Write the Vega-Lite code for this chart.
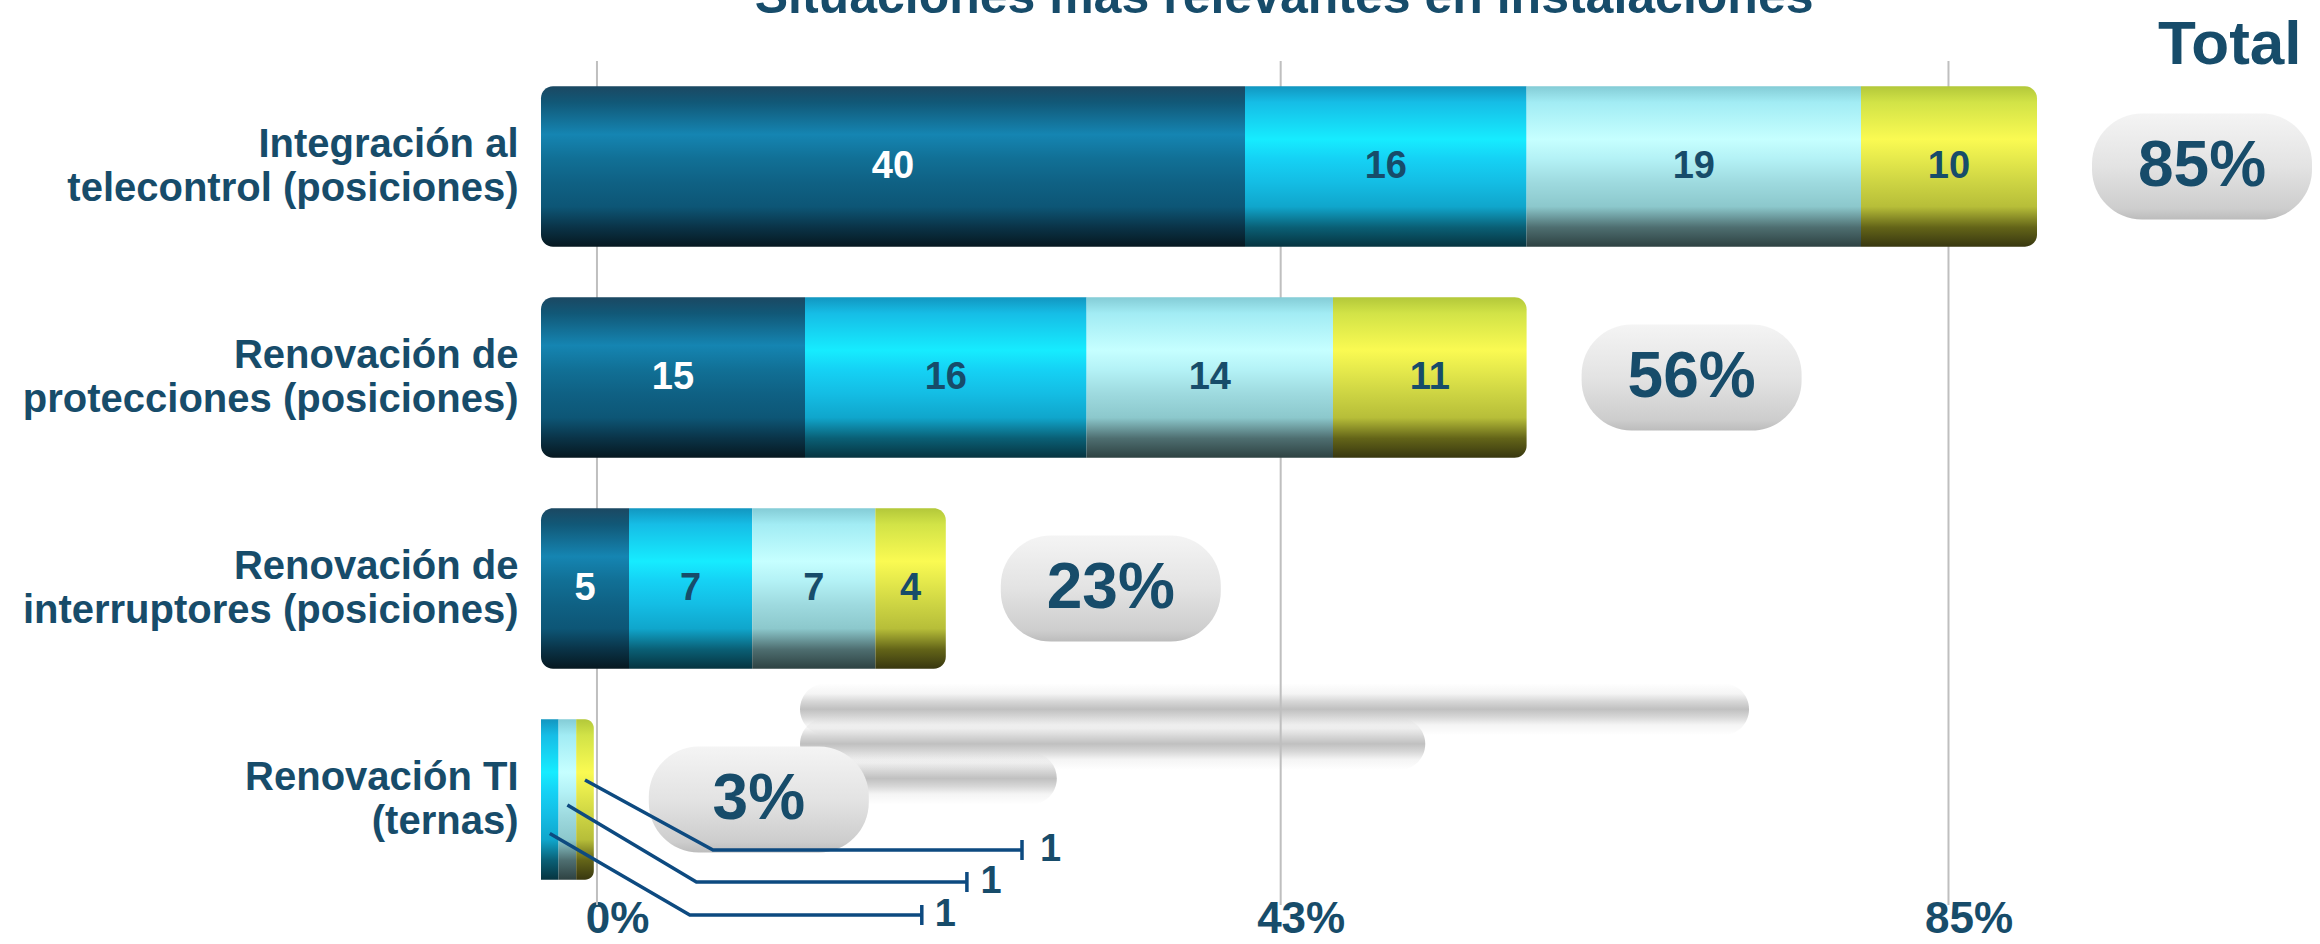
{
  "$schema": "https://vega.github.io/schema/vega-lite/v6.json",
  "width": 1760,
  "height": 844,
  "autosize": {"type": "none"},
  "padding": {"left": 541, "top": 61, "right": 19, "bottom": 39},
  "background": "white",
  "config": {"view": {"stroke": null}, "font": "Liberation Sans"},
  "datasets": {
    "segments": [
      {"category": "Integración al telecontrol (posiciones)", "serie": "Serie 1", "value": 40},
      {"category": "Integración al telecontrol (posiciones)", "serie": "Serie 2", "value": 16},
      {"category": "Integración al telecontrol (posiciones)", "serie": "Serie 3", "value": 19},
      {"category": "Integración al telecontrol (posiciones)", "serie": "Serie 4", "value": 10},
      {"category": "Renovación de protecciones (posiciones)", "serie": "Serie 1", "value": 15},
      {"category": "Renovación de protecciones (posiciones)", "serie": "Serie 2", "value": 16},
      {"category": "Renovación de protecciones (posiciones)", "serie": "Serie 3", "value": 14},
      {"category": "Renovación de protecciones (posiciones)", "serie": "Serie 4", "value": 11},
      {"category": "Renovación de interruptores (posiciones)", "serie": "Serie 1", "value": 5},
      {"category": "Renovación de interruptores (posiciones)", "serie": "Serie 2", "value": 7},
      {"category": "Renovación de interruptores (posiciones)", "serie": "Serie 3", "value": 7},
      {"category": "Renovación de interruptores (posiciones)", "serie": "Serie 4", "value": 4},
      {"category": "Renovación TI (ternas)", "serie": "Serie 1", "value": 0},
      {"category": "Renovación TI (ternas)", "serie": "Serie 2", "value": 1},
      {"category": "Renovación TI (ternas)", "serie": "Serie 3", "value": 1},
      {"category": "Renovación TI (ternas)", "serie": "Serie 4", "value": 1}
    ],
    "grid": [{"pct": 0}, {"pct": 43}, {"pct": 85}]
  },
  "resolve": {"scale": {"x": "independent", "y": "independent"}},
  "layer": [
    {
      "data": {"name": "segments"},
      "transform": [
        {"aggregate": [{"op": "sum", "field": "value", "as": "total"}], "groupby": ["category"]},
        {"filter": "datum.category != 'Renovación TI (ternas)'"},
        {"window": [{"op": "rank", "as": "rank"}], "sort": [{"field": "total", "order": "descending"}]}
      ],
      "mark": {
        "type": "bar",
        "orient": "horizontal",
        "height": 52,
        "cornerRadius": 26,
        "fill": {
          "gradient": "linear", "x1": 0, "y1": 0, "x2": 0, "y2": 1,
          "stops": [
            {"offset": 0, "color": "rgba(150,150,150,0)"},
            {"offset": 0.2, "color": "rgba(150,150,150,0.1)"},
            {"offset": 0.35, "color": "rgba(150,150,150,0.38)"},
            {"offset": 0.5, "color": "rgba(150,150,150,0.6)"},
            {"offset": 0.65, "color": "rgba(150,150,150,0.38)"},
            {"offset": 0.8, "color": "rgba(150,150,150,0.1)"},
            {"offset": 1, "color": "rgba(150,150,150,0)"}
          ]
        }
      },
      "encoding": {
        "x": {
          "field": "total", "type": "quantitative", "stack": null,
          "scale": {"domain": [-23.2, 134.44], "nice": false, "zero": false},
          "axis": {
            "orient": "top", "title": "Total", "labels": false, "ticks": false, "domain": false, "grid": false,
            "titleFontSize": 62, "titleFontWeight": "bold", "titleFont": "Liberation Sans", "titleColor": "#174c6a",
            "titleAnchor": "end", "titleAlign": "right", "titleBaseline": "alphabetic", "titleX": 1760, "titleY": 2
          }
        },
        "y": {
          "field": "rank", "type": "quantitative",
          "scale": {"domain": [-17.6, 6.514], "reverse": true, "nice": false, "zero": false},
          "axis": null
        }
      }
    },
    {
      "data": {"name": "grid"},
      "mark": {"type": "rule", "color": "#bfbfbf", "strokeWidth": 2},
      "encoding": {
        "x": {
          "field": "pct", "type": "quantitative",
          "scale": {"domain": [-3.52, 107.17], "nice": false, "zero": false},
          "axis": {
            "orient": "bottom", "values": [0, 43, 85], "labelExpr": "datum.value + '%'",
            "domain": false, "ticks": false, "tickSize": 0, "grid": false,
            "labelFontSize": 44, "labelFontWeight": "bold", "labelColor": "#174c6a", "labelFont": "Liberation Sans",
            "labelPadding": 27, "labelBaseline": "alphabetic", "labelOffset": 20,
            "labelFlush": false, "labelOverlap": false,
            "title": "Situaciones más relevantes en instalaciones",
            "titleFontSize": 50, "titleFontWeight": "bold", "titleFont": "Liberation Sans", "titleColor": "#174c6a",
            "titleAlign": "center", "titleBaseline": "alphabetic", "titleX": 742.6, "titleY": -893
          }
        }
      }
    },
    {
      "encoding": {
        "y": {
          "field": "category", "type": "nominal",
          "scale": {
            "domain": ["Integración al telecontrol (posiciones)", "Renovación de protecciones (posiciones)", "Renovación de interruptores (posiciones)", "Renovación TI (ternas)"],
            "paddingInner": 0.24, "paddingOuter": 0.12
          },
          "axis": {
            "orient": "left", "domain": false, "ticks": false, "grid": false, "title": null,
            "labelFontSize": 40, "labelFontWeight": "bold", "labelColor": "#174c6a", "labelFont": "Liberation Sans",
            "labelAlign": "right", "labelBaseline": "middle", "labelPadding": 23, "labelLimit": 700,
            "labelLineHeight": 44, "labelOffset": -22,
            "labelExpr": "[join(slice(split(datum.label, ' '), 0, 2), ' '), join(slice(split(datum.label, ' '), 2), ' ')]"
          }
        }
      },
      "layer": [
        {
          "data": {"name": "segments"},
          "transform": [
            {"aggregate": [{"op": "sum", "field": "value", "as": "total"}], "groupby": ["category"]},
            {"calculate": "datum.total + '%'", "as": "label"}
          ],
          "layer": [
            {
              "mark": {
                "type": "bar", "xOffset": 55, "x2Offset": 275, "height": 106, "cornerRadius": 50,
                "fill": {
                  "gradient": "linear", "x1": 0, "y1": 0, "x2": 0, "y2": 1,
                  "stops": [
                    {"offset": 0, "color": "#f4f4f4"},
                    {"offset": 0.5, "color": "#e3e3e3"},
                    {"offset": 0.9, "color": "#cdcdcd"},
                    {"offset": 1, "color": "#bcbcbc"}
                  ]
                }
              },
              "encoding": {
                "x": {"field": "total", "type": "quantitative", "scale": {"domain": [0, 100], "nice": false, "zero": false}, "axis": null},
                "x2": {"field": "total"}
              }
            },
            {
              "mark": {"type": "text", "dx": 165, "align": "center", "baseline": "middle", "fontSize": 64, "fontWeight": "bold", "font": "Liberation Sans", "color": "#174c6a"},
              "encoding": {
                "x": {"field": "total", "type": "quantitative", "scale": {"domain": [0, 100], "nice": false, "zero": false}, "axis": null},
                "text": {"field": "label", "type": "nominal"}
              }
            }
          ]
        },
        {
          "data": {"name": "segments"},
          "transform": [
            {"stack": "value", "groupby": ["category"], "sort": [{"field": "serie", "order": "ascending"}], "as": ["x0", "x1"]},
            {"calculate": "(datum.x0 + datum.x1) / 2", "as": "mid"}
          ],
          "layer": [
            {
              "transform": [{"filter": "datum.serie == 'Serie 1'"}],
              "mark": {
                "type": "bar",
                "cornerRadiusTopLeft": 12, "cornerRadiusBottomLeft": 12,
                "fill": {
                  "gradient": "linear", "x1": 0, "y1": 0, "x2": 0, "y2": 1,
                  "stops": [
                    {"offset": 0, "color": "#1b4862"},
                    {"offset": 0.1, "color": "#115877"},
                    {"offset": 0.3, "color": "#1585b2"},
                    {"offset": 0.45, "color": "#117096"},
                    {"offset": 0.6, "color": "#0f6184"},
                    {"offset": 0.75, "color": "#0d5676"},
                    {"offset": 0.88, "color": "#0a3347"},
                    {"offset": 1, "color": "#061820"}
                  ]
                }
              },
              "encoding": {
                "x": {"field": "x0", "type": "quantitative", "scale": {"domain": [0, 100], "nice": false, "zero": false}, "axis": null},
                "x2": {"field": "x1"}
              }
            },
            {
              "transform": [{"filter": "datum.serie == 'Serie 2'"}],
              "mark": {
                "type": "bar",
                "fill": {
                  "gradient": "linear", "x1": 0, "y1": 0, "x2": 0, "y2": 1,
                  "stops": [
                    {"offset": 0, "color": "#1296c0"},
                    {"offset": 0.1, "color": "#16bde6"},
                    {"offset": 0.33, "color": "#16ecff"},
                    {"offset": 0.45, "color": "#15d2f5"},
                    {"offset": 0.6, "color": "#14bde4"},
                    {"offset": 0.75, "color": "#10a6cc"},
                    {"offset": 0.88, "color": "#0a5f75"},
                    {"offset": 1, "color": "#063440"}
                  ]
                }
              },
              "encoding": {
                "x": {"field": "x0", "type": "quantitative", "scale": {"domain": [0, 100], "nice": false, "zero": false}, "axis": null},
                "x2": {"field": "x1"}
              }
            },
            {
              "transform": [{"filter": "datum.serie == 'Serie 3'"}],
              "mark": {
                "type": "bar",
                "fill": {
                  "gradient": "linear", "x1": 0, "y1": 0, "x2": 0, "y2": 1,
                  "stops": [
                    {"offset": 0, "color": "#84ccd6"},
                    {"offset": 0.1, "color": "#a2ecf4"},
                    {"offset": 0.33, "color": "#c6ffff"},
                    {"offset": 0.45, "color": "#b4f2f6"},
                    {"offset": 0.6, "color": "#9edadf"},
                    {"offset": 0.75, "color": "#8cc8cc"},
                    {"offset": 0.88, "color": "#4e6e70"},
                    {"offset": 1, "color": "#2e4242"}
                  ]
                }
              },
              "encoding": {
                "x": {"field": "x0", "type": "quantitative", "scale": {"domain": [0, 100], "nice": false, "zero": false}, "axis": null},
                "x2": {"field": "x1"}
              }
            },
            {
              "transform": [{"filter": "datum.serie == 'Serie 4'"}],
              "mark": {
                "type": "bar",
                "cornerRadiusTopRight": 12, "cornerRadiusBottomRight": 12,
                "fill": {
                  "gradient": "linear", "x1": 0, "y1": 0, "x2": 0, "y2": 1,
                  "stops": [
                    {"offset": 0, "color": "#b3c83a"},
                    {"offset": 0.1, "color": "#d2e347"},
                    {"offset": 0.33, "color": "#fafa52"},
                    {"offset": 0.45, "color": "#e6ea4c"},
                    {"offset": 0.6, "color": "#cdd443"},
                    {"offset": 0.75, "color": "#b7be39"},
                    {"offset": 0.88, "color": "#636418"},
                    {"offset": 1, "color": "#383710"}
                  ]
                }
              },
              "encoding": {
                "x": {"field": "x0", "type": "quantitative", "scale": {"domain": [0, 100], "nice": false, "zero": false}, "axis": null},
                "x2": {"field": "x1"}
              }
            },
            {
              "transform": [{"filter": "datum.category != 'Renovación TI (ternas)'"}],
              "mark": {"type": "text", "fontSize": 38, "fontWeight": "bold", "font": "Liberation Sans", "baseline": "middle", "align": "center"},
              "encoding": {
                "x": {"field": "mid", "type": "quantitative", "scale": {"domain": [0, 100], "nice": false, "zero": false}, "axis": null},
                "text": {"field": "value", "type": "quantitative"},
                "color": {"condition": {"test": "datum.serie == 'Serie 1'", "value": "#ffffff"}, "value": "#174c6a"}
              }
            },
            {
              "transform": [{"filter": "datum.category == 'Renovación TI (ternas)' && datum.serie == 'Serie 2'"}],
              "encoding": {
                "x": {"field": "mid", "type": "quantitative", "scale": {"domain": [0, 100], "nice": false, "zero": false}, "axis": null}
              },
              "layer": [
                {"mark": {"type": "point", "shape": "M0,34 L140,115.5 L372,115.5 M372,105.5 L372,125.5", "size": 4, "filled": false, "color": "#0d4a80", "stroke": "#0d4a80", "strokeWidth": 3.5, "opacity": 1}},
                {"mark": {"type": "text", "dx": 385, "dy": 115.5, "align": "left", "baseline": "middle", "fontSize": 38, "fontWeight": "bold", "font": "Liberation Sans", "color": "#174c6a"}, "encoding": {"text": {"field": "value", "type": "quantitative"}}}
              ]
            },
            {
              "transform": [{"filter": "datum.category == 'Renovación TI (ternas)' && datum.serie == 'Serie 3'"}],
              "encoding": {
                "x": {"field": "mid", "type": "quantitative", "scale": {"domain": [0, 100], "nice": false, "zero": false}, "axis": null}
              },
              "layer": [
                {"mark": {"type": "point", "shape": "M0,5.5 L129,82.5 L399.5,82.5 M399.5,72.5 L399.5,92.5", "size": 4, "filled": false, "color": "#0d4a80", "stroke": "#0d4a80", "strokeWidth": 3.5, "opacity": 1}},
                {"mark": {"type": "text", "dx": 413, "dy": 82.5, "align": "left", "baseline": "middle", "fontSize": 38, "fontWeight": "bold", "font": "Liberation Sans", "color": "#174c6a"}, "encoding": {"text": {"field": "value", "type": "quantitative"}}}
              ]
            },
            {
              "transform": [{"filter": "datum.category == 'Renovación TI (ternas)' && datum.serie == 'Serie 4'"}],
              "encoding": {
                "x": {"field": "mid", "type": "quantitative", "scale": {"domain": [0, 100], "nice": false, "zero": false}, "axis": null}
              },
              "layer": [
                {"mark": {"type": "point", "shape": "M0,-19.5 L128,50.5 L437,50.5 M437,40.5 L437,60.5", "size": 4, "filled": false, "color": "#0d4a80", "stroke": "#0d4a80", "strokeWidth": 3.5, "opacity": 1}},
                {"mark": {"type": "text", "dx": 455, "dy": 50.5, "align": "left", "baseline": "middle", "fontSize": 38, "fontWeight": "bold", "font": "Liberation Sans", "color": "#174c6a"}, "encoding": {"text": {"field": "value", "type": "quantitative"}}}
              ]
            }
          ]
        }
      ]
    }
  ]
}
